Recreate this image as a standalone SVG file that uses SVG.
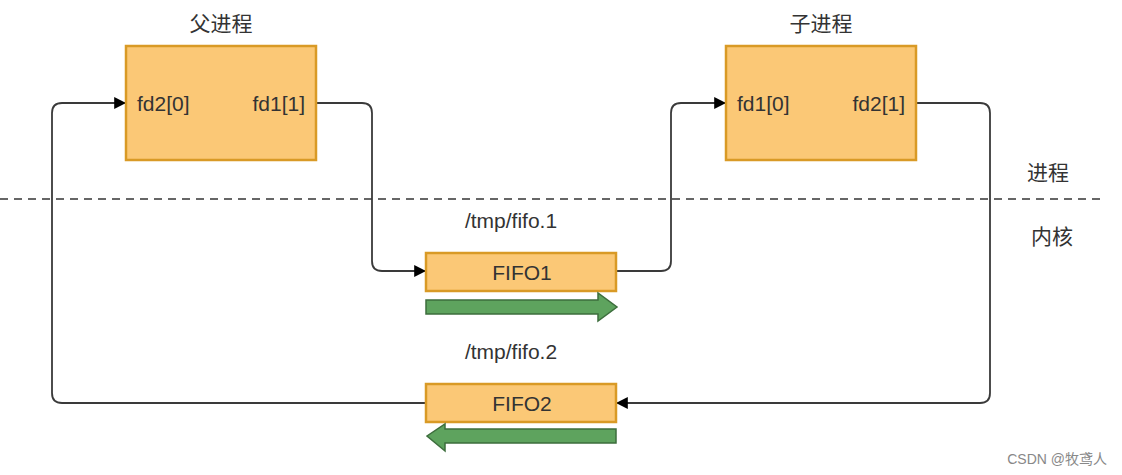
<svg xmlns="http://www.w3.org/2000/svg" width="1122" height="475" viewBox="0 0 1122 475">
<defs>
<style>
.box{fill:#FBC876;stroke:#D99A26;stroke-width:2.5}
.t{font-family:"Liberation Sans","Noto Sans CJK SC",sans-serif;font-size:21px;fill:#333}
.cn{font-family:"Noto Sans CJK SC","Liberation Sans",sans-serif;font-size:21px;fill:#333}
.c{fill:none;stroke:#3a3a3a;stroke-width:1.8}
.g{fill:#5EA35E;stroke:#3D6E3D;stroke-width:1.5}
</style>
<marker id="ah" viewBox="0 0 10 10" refX="9" refY="5" markerWidth="12" markerHeight="12" markerUnits="userSpaceOnUse" orient="auto">
<path d="M0,0 L10,5 L0,10 Z" fill="#000"/>
</marker>
</defs>
<rect width="1122" height="475" fill="#fff"/>
<line x1="0" y1="199" x2="1100" y2="199" stroke="#666" stroke-width="2.2" stroke-dasharray="8,6"/>
<text class="cn" x="1048" y="180" text-anchor="middle">进程</text>
<text class="cn" x="1052" y="244" text-anchor="middle">内核</text>
<g id="connectors">
<path class="c" d="M316,103 H362 Q372,103 372,113 V261 Q372,271 382,271 H425" marker-end="url(#ah)"/>
<path class="c" d="M616,271 H661 Q671,271 671,261 V113 Q671,103 681,103 H725" marker-end="url(#ah)"/>
<path class="c" d="M916,103 H980 Q990,103 990,113 V393 Q990,403 980,403 H617" marker-end="url(#ah)"/>
<path class="c" d="M426,403 H62 Q52,403 52,393 V113 Q52,103 62,103 H125" marker-end="url(#ah)"/>
</g>
<g id="parent">
<text class="cn" x="221" y="31" text-anchor="middle">父进程</text>
<rect class="box" x="126" y="46" width="190" height="114"/>
<text class="t" x="137" y="111">fd2[0]</text>
<text class="t" x="305" y="111" text-anchor="end">fd1[1]</text>
</g>
<g id="child">
<text class="cn" x="821" y="31" text-anchor="middle">子进程</text>
<rect class="box" x="726" y="46" width="190" height="114"/>
<text class="t" x="737" y="111">fd1[0]</text>
<text class="t" x="905" y="111" text-anchor="end">fd2[1]</text>
</g>
<g id="fifo1">
<text class="t" x="511" y="228" text-anchor="middle">/tmp/fifo.1</text>
<rect class="box" x="426" y="253" width="190" height="38"/>
<text class="t" x="522" y="280" text-anchor="middle">FIFO1</text>
<path class="g" d="M426,300 H598 V293 L617,307 L598,321 V314 H426 Z"/>
</g>
<g id="fifo2">
<text class="t" x="511" y="359" text-anchor="middle">/tmp/fifo.2</text>
<rect class="box" x="426" y="384" width="190" height="38"/>
<text class="t" x="522" y="411" text-anchor="middle">FIFO2</text>
<path class="g" d="M616,429 H445 V424 L427,436 L445,451 V443 H616 Z"/>
</g>
<text x="1107" y="464" text-anchor="end" font-family="Liberation Sans,Noto Sans CJK SC,sans-serif" font-size="14" fill="#888">CSDN @牧鸢人</text>
</svg>
